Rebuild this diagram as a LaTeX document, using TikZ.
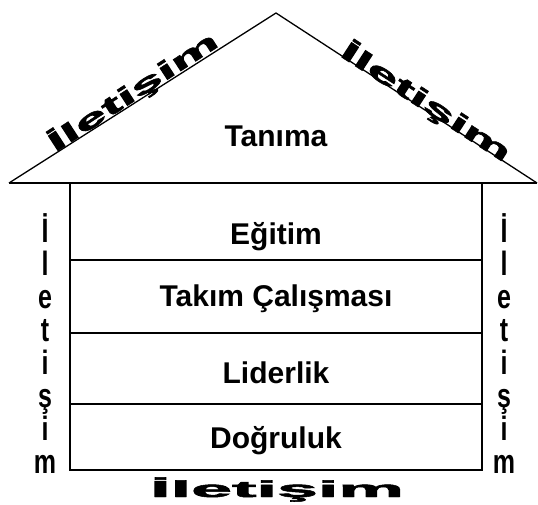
\documentclass[tikz,border=0pt]{standalone}
\usepackage{fontspec}
\setmainfont{Liberation Sans}
\newfontfamily\heavyfont[FakeBold=2]{Liberation Sans Bold}
\begin{document}
\begin{tikzpicture}[x=1pt,y=-1pt,
  floorlabel/.style={anchor=base,font=\fontsize{30}{36}\selectfont\bfseries},
  sideletter/.style={anchor=base,yscale=1.35,font=\fontsize{25}{30}\selectfont\bfseries},
  rooftext/.style={xscale=2.2,font=\fontsize{26}{30}\selectfont\heavyfont},
  wall/.style={line width=1.6pt},
  roof/.style={line width=1.3pt,line join=round}]
\useasboundingbox (0,0) rectangle (538,505);
% roof
\coordinate (apex) at (276,13);
\coordinate (lb) at (9,183);
\coordinate (rb) at (537,183);
\draw[roof] (lb) -- (apex) -- (rb);
% house body
\coordinate (tl) at (70,183);
\coordinate (tr) at (482,183);
\coordinate (bl) at (70,470);
\coordinate (br) at (482,470);
\draw[wall] (lb) -- (rb);
\draw[wall] (tl) -- (bl) -- (br) -- (tr);
\draw[wall] (70,260) -- (482,260);
\draw[wall] (70,333) -- (482,333);
\draw[wall] (70,404) -- (482,404);
% labels
\node[floorlabel] (tanima) at (276,147) {Tanıma};
\node[floorlabel] (egitim) at (276,244) {Eğitim};
\node[floorlabel] (takim) at (276,306) {Takım Çalışması};
\node[floorlabel] (lider) at (276,383) {Liderlik};
\node[floorlabel] (dogru) at (276,448) {Doğruluk};
% roof texts
\node[rotate=33,rooftext] (rl) at (133,92) {İletişim};
\node[rotate=-33,rooftext] (rr) at (426,102) {İletişim};
% bottom text
\node[anchor=base,xscale=3.2,font=\fontsize{23}{27}\selectfont\heavyfont] (bot) at (277,497) {İletişim};
% side letters
\foreach \ch [count=\k from 0] in {İ,l,e,t,i,ş,i,m} {
  \node[sideletter] (l\k) at (45,242+33*\k) {\ch};
  \node[sideletter] (r\k) at (504,242+33*\k) {\ch};
}
\end{tikzpicture}
\end{document}
